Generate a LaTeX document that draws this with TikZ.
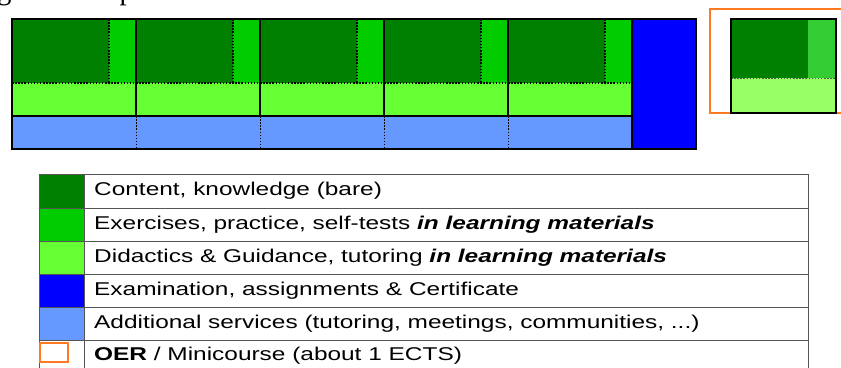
\documentclass[tikz,border=0pt]{standalone}
\usepackage{fontspec}
\setmainfont{Liberation Serif}
\newfontfamily\arialf{Liberation Sans}
\usepackage{graphicx}
\definecolor{dkgreen}{HTML}{008000}
\definecolor{mdgreen}{HTML}{00CC00}
\definecolor{ltgreen}{HTML}{66FF33}
\definecolor{exblue}{HTML}{0000FF}
\definecolor{svblue}{HTML}{6699FF}
\definecolor{minimd}{HTML}{33CC33}
\definecolor{minilt}{HTML}{99FF66}
\definecolor{oerorange}{HTML}{FF7A20}
\definecolor{gridgray}{HTML}{555555}
\tikzset{
  dotline/.style={draw=black, line width=1.3pt, dash pattern=on 1.5pt off 1.6pt},
  sepline/.style={draw=black, line width=1.1pt},
  frameline/.style={draw=black, line width=2pt},
  legline/.style={draw=gridgray, line width=1pt},
  legtext/.style={anchor=west, inner sep=0pt, font=\arialf\fontsize{18.5}{20}\selectfont},
}
\newcommand{\wide}[1]{\scalebox{1.32}[1]{#1}}
\begin{document}
\begin{tikzpicture}[x=1pt,y=-1pt]
\useasboundingbox (0,0) rectangle (841,367);
% clipped caption
\node[anchor=base west, inner sep=0pt, font=\fontsize{30}{32}\selectfont] (caption) at (-27,-0.5)
  {\scalebox{0.96}[1]{Figure 1: Representation of the Modular Course model of courses}};
% module fills
\foreach \i in {0,...,4} {
  \pgfmathsetmacro{\xa}{12+124*\i}
  \fill[dkgreen] (\xa,19) rectangle ++(97,64);
  \fill[mdgreen] (\xa+97,19) rectangle ++(27,64);
  \fill[ltgreen] (\xa,83) rectangle ++(124,33);
  \fill[svblue] (\xa,116) rectangle ++(124,33);
}
\fill[exblue] (632,19) rectangle (696,149);
% module lines
\foreach \i in {0,...,4} {
  \pgfmathsetmacro{\xa}{12+124*\i}
  \pgfmathsetmacro{\xb}{\xa+97}
  \pgfmathsetmacro{\xc}{\xa+124}
  \path[dotline] (\xb,19) -- (\xb,83);
  \path[dotline] (\xa,83) -- (\xc,83);
  \path[dotline, line width=1pt] (\xc,116) -- (\xc,149);
  \path[sepline] (\xc,19) -- (\xc,116);
}
\path[sepline] (632,19) -- (632,149);
\path[draw=black, line width=1.6pt] (12,116) -- (632,116);
\path[frameline] (12,19) rectangle (696,149);
% OER mini course
\path[draw=oerorange, line width=1.6pt] (850,9) -- (710,9) -- (710,113) -- (850,113);
\fill[dkgreen] (731,19) rectangle (808,78);
\fill[minimd] (808,19) rectangle (836,78);
\fill[minilt] (731,78) rectangle (836,113);
\path[dotline, draw=gridgray, line width=0.7pt] (731,78) -- (836,78);
\path[frameline] (731,19) rectangle (836,113);
% legend
\fill[dkgreen] (39,174) rectangle (84,208);
\fill[mdgreen] (39,208) rectangle (84,241);
\fill[ltgreen] (39,241) rectangle (84,274);
\fill[exblue] (39,274) rectangle (84,307);
\fill[svblue] (39,307) rectangle (84,340);
\foreach \yy in {174,208,241,274,307,340} {
  \path[legline] (39,\yy) -- (808,\yy);
}
\path[legline] (39,174) -- (39,373) (84,174) -- (84,373) (808,174) -- (808,373);
\path[draw=oerorange, line width=1.6pt] (40,343) rectangle (68,362);
\node[legtext] (l1) at (94,191) {\wide{Content, knowledge (bare)}};
\node[legtext] (l2) at (94,224.5) {\wide{Exercises, practice, self-tests \textbf{\textit{in learning materials}}}};
\node[legtext] (l3) at (94,257.5) {\wide{Didactics \& Guidance, tutoring \textbf{\textit{in learning materials}}}};
\node[legtext] (l4) at (94,290.5) {\wide{Examination, assignments \& Certificate}};
\node[legtext] (l5) at (94,323.5) {\wide{Additional services (tutoring, meetings, communities, ...)}};
\node[legtext] (l6) at (94,355.5) {\wide{\textbf{OER} / Minicourse (about 1 ECTS)}};
\end{tikzpicture}
\end{document}
